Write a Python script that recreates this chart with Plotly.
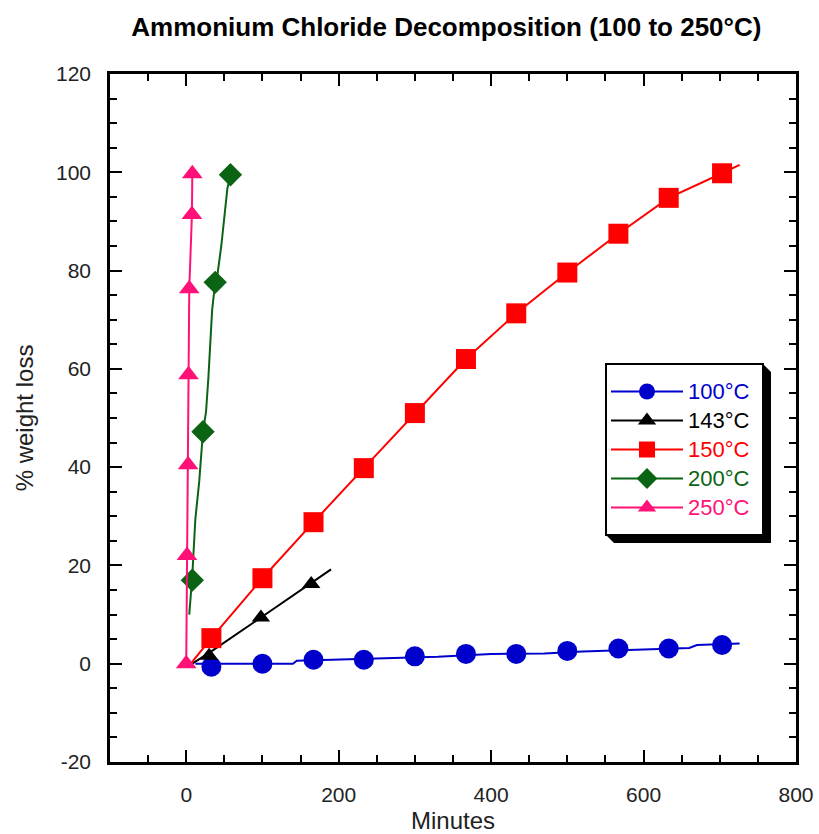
import plotly.graph_objects as go

# --- measured data (minutes, % weight loss) ---
series_names = ["100°C", "143°C", "150°C", "200°C", "250°C"]
colors = ["#0000CC", "#000000", "#FF0000", "#0B6414", "#FF1177"]
symbols = ["circle", "triangle-up", "square", "diamond", "triangle-up"]
marker_sizes = [20, 16, 20, 18, 18]

# sampled points (marked)
t100 = [33, 100, 167, 233, 300, 367, 433, 500, 567, 633, 703]
w100 = [-0.6, 0.0, 0.8, 0.8, 1.5, 2.0, 2.0, 2.6, 3.1, 3.1, 3.8]
t143 = [30, 98, 164]
w143 = [1.6, 9.4, 16.2]
t150 = [33, 100, 167, 233, 300, 367, 433, 500, 567, 633, 703]
w150 = [5.2, 17.4, 28.8, 39.8, 51.0, 62.0, 71.3, 79.6, 87.5, 94.8, 99.8]
t200 = [8, 22, 38, 58]
w200 = [17.0, 47.2, 77.6, 99.5]
t250 = [0, 1, 2.5, 3, 4, 7.5, 8]
w250 = [0, 22, 40.5, 58.8, 76.3, 91.4, 99.7]

# continuous recorded curves
c100_t = [12, 140, 145, 230, 330, 400, 470, 520, 590, 660, 670, 726]
c100_w = [0, 0, 0.6, 0.9, 1.4, 2.0, 2.1, 2.5, 2.9, 3.2, 3.8, 4.1]
c143_t = [8, 30, 98, 164, 190]
c143_w = [0, 2.2, 9.4, 16.4, 19.2]
c150_t = [6, 33, 100, 167, 233, 300, 367, 433, 500, 567, 633, 703, 726]
c150_w = [0, 5.2, 17.4, 28.8, 39.8, 51.0, 62.0, 71.3, 79.6, 87.5, 94.8, 99.8, 101.5]
c200_t = [4, 8, 12, 17, 22, 26, 29, 31.5, 34, 38, 41, 46, 50, 54, 58]
c200_w = [10, 18, 29.5, 37, 47.2, 51.3, 58, 65, 72, 77.6, 79.2, 85, 90.4, 96.7, 99.5]
c250_t = [0, 1, 2.5, 3, 4, 7.5, 8]
c250_w = [0, 22, 40.5, 58.8, 76.3, 91.4, 99.7]

y_ticks = [-20, 0, 20, 40, 60, 80, 100, 120]
y_tick_text = ["-20", "0", "20", "40", "60", "80", "100", "120"]

curves = [(c100_t, c100_w), (c143_t, c143_w), (c150_t, c150_w), (c200_t, c200_w), (c250_t, c250_w)]
points = [(t100, w100), (t143, w143), (t150, w150), (t200, w200), (t250, w250)]

FONT = "Liberation Sans, Arial, sans-serif"

# plot-area geometry in pixels (used to place the legend and its frame)
W, H = 819, 834
ML, MR, MT, MB = 110, 23, 74, 72
PW, PH = W - ML - MR, H - MT - MB


def px_x(p):
    return (p - ML) / PW


def px_y(p):
    return (H - MB - p) / PH


fig = go.Figure()
for name, col, sym, ms, (ct, cw), (pt, pw) in zip(series_names, colors, symbols, marker_sizes, curves, points):
    fig.add_trace(go.Scatter(x=ct, y=cw, mode="lines", line=dict(color=col, width=2),
                             showlegend=False, hoverinfo="skip"))
    fig.add_trace(go.Scatter(x=pt, y=pw, mode="markers",
                             marker=dict(symbol=sym, size=ms, color=col),
                             showlegend=False, name=name))
    # legend entry: line with marker
    fig.add_trace(go.Scatter(x=[None], y=[None], mode="lines+markers",
                             line=dict(color=col, width=2),
                             marker=dict(symbol=sym, size=16, color=col),
                             name=f'<span style="color:{col};font-size:22px">{name}</span>\u00a0'))

axis_common = dict(
    showline=True, linecolor="black", linewidth=2.5, mirror="ticks",
    ticks="inside", ticklen=12, tickwidth=2, tickcolor="black",
    showgrid=False, zeroline=False, automargin=False,
    tickfont=dict(family=FONT, size=21, color="#222"),
    ticklabelstandoff=12,
)

fig.update_xaxes(range=[-100, 800], dtick=200, tick0=0,
                 minor=dict(dtick=50, ticks="inside", ticklen=7, tickwidth=2, tickcolor="black"),
                 title=dict(text="Minutes", font=dict(family=FONT, size=24, color="#222"), standoff=16),
                 **axis_common)
fig.update_yaxes(range=[-20, 120], tickvals=y_ticks, ticktext=y_tick_text,
                 minor=dict(dtick=5, ticks="inside", ticklen=7, tickwidth=2, tickcolor="black"),
                 title=dict(text="% weight loss", font=dict(family=FONT, size=24, color="#222"), standoff=16),
                 **axis_common)

# legend frame: bevelled drop shadow, then white box with black border
box_l, box_t, box_r, box_b, sh = 606, 364, 763, 535, 8
fig.add_shape(type="path", xref="paper", yref="paper",
              path=(f"M {px_x(box_r)} {px_y(box_t)} L {px_x(box_r + sh)} {px_y(box_t + sh)} "
                    f"L {px_x(box_r + sh)} {px_y(box_b + sh)} L {px_x(box_l + sh)} {px_y(box_b + sh)} "
                    f"L {px_x(box_l)} {px_y(box_b)} Z"),
              fillcolor="black", line=dict(width=0), layer="above")
fig.add_shape(type="rect", xref="paper", yref="paper",
              x0=px_x(box_l), x1=px_x(box_r), y0=px_y(box_b), y1=px_y(box_t),
              fillcolor="white", line=dict(color="black", width=2), layer="above")

fig.update_layout(
    width=W, height=H,
    margin=dict(l=ML, r=MR, t=MT, b=MB, autoexpand=False),
    paper_bgcolor="white", plot_bgcolor="white",
    title=dict(text="<b>Ammonium Chloride Decomposition (100 to 250°C)</b>",
               font=dict(family=FONT, size=26, color="black"),
               x=0.545, xanchor="center", y=1 - 27 / H, yanchor="middle", yref="container"),
    legend=dict(x=px_x(box_l), y=px_y(box_t + 8), xanchor="left", yanchor="top",
                bgcolor="rgba(0,0,0,0)", borderwidth=0,
                font=dict(family=FONT, size=20), itemwidth=72,
                tracegroupgap=0),
    showlegend=True,
)

fig.write_html("out.html")
